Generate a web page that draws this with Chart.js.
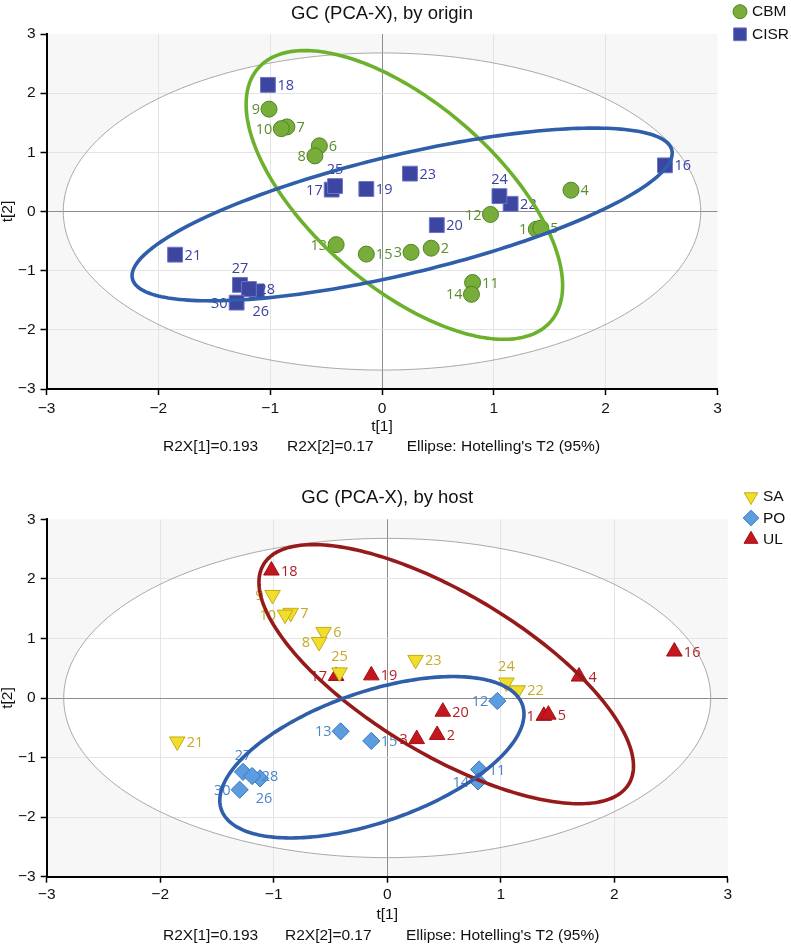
<!DOCTYPE html>
<html>
<head>
<meta charset="utf-8">
<script src="https://cdn.jsdelivr.net/npm/chart.js@4.4.1/dist/chart.umd.min.js"></script>
<style>
  body { margin: 0; background: #fff; width: 791px; height: 946px; overflow: hidden; }
  canvas { position: absolute; left: 0; }
  #originChart { top: 0; }
  #hostChart { top: 460px; }
</style>
</head>
<body>
<canvas id="originChart" width="791" height="460"></canvas>
<canvas id="hostChart" width="791" height="486"></canvas>
<script>
// PCA scores per sample (29 is hidden behind the 26/28 cluster, so left out)
const sampleIds = [1, 2, 3, 4, 5, 6, 7, 8, 9, 10, 11, 12, 13, 14, 15,
                   16, 17, 18, 19, 20, 21, 22, 23, 24, 25, 26, 27, 28, 30];
const t1Scores = [1.38, 0.44, 0.26, 1.69, 1.42, -0.56, -0.85, -0.60, -1.01, -0.90, 0.81, 0.97, -0.41, 0.80, -0.14,
                  2.53, -0.45, -1.02, -0.14, 0.49, -1.85, 1.15, 0.25, 1.05, -0.42, -1.12, -1.27, -1.19, -1.30];
const t2Scores = [-0.30, -0.62, -0.69, 0.36, -0.28, 1.11, 1.43, 0.94, 1.73, 1.40, -1.20, -0.05, -0.56, -1.40, -0.72,
                  0.78, 0.37, 2.14, 0.38, -0.23, -0.73, 0.13, 0.64, 0.26, 0.43, -1.35, -1.24, -1.31, -1.54];
const originGroups = ['CBM', 'CBM', 'CBM', 'CBM', 'CBM', 'CBM', 'CBM', 'CBM', 'CBM', 'CBM', 'CBM', 'CBM', 'CBM', 'CBM', 'CBM',
                      'CISR', 'CISR', 'CISR', 'CISR', 'CISR', 'CISR', 'CISR', 'CISR', 'CISR', 'CISR', 'CISR', 'CISR', 'CISR', 'CISR'];
const hostGroups = ['UL', 'UL', 'UL', 'UL', 'UL', 'SA', 'SA', 'SA', 'SA', 'SA', 'PO', 'PO', 'PO', 'PO', 'PO',
                    'UL', 'UL', 'UL', 'UL', 'UL', 'SA', 'SA', 'SA', 'SA', 'SA', 'PO', 'PO', 'PO', 'PO'];
const originNames = ['CBM', 'CISR'];
const hostNames = ['SA', 'PO', 'UL'];
const axisTicks = [-3, -2, -1, 0, 1, 2, 3];
const r2x = [0.193, 0.17];

// ellipses: [centre t1, centre t2, half width t1, half height t2, correlation]
const hotellingEllipse = [0, 0, 2.85, 2.68, 0];
const originEllipses = { CBM: [0.20, 0.28, 1.415, 2.44, -0.628], CISR: [0.18, -0.05, 2.415, 1.46, 0.709] };
const hostEllipses = { UL: [0.52, 0.40, 1.65, 2.175, -0.709], PO: [-0.135, -0.995, 1.34, 1.355, 0.534] };

const FONT = "'Liberation Sans', Arial, sans-serif";
const LABEL_FONT = "14.5px 'Open Sans', 'Noto Sans', sans-serif";

const groupStyle = {
  CBM:  { pointStyle: 'circle',   rotation: 0,   radius: 8,   legendRadius: 7,   fill: '#79ad3b', stroke: '#4d8722', text: '#5b8d2c', line: '#6cb12c' },
  CISR: { pointStyle: 'rect',     rotation: 0,   radius: 10.5, legendRadius: 9,  fill: '#3c46a0', stroke: '#6b74c4', text: '#3c41a0', line: '#2f5eaa' },
  SA:   { pointStyle: 'triangle', rotation: 180, radius: 9,   legendRadius: 7.8, fill: '#f1dd2b', stroke: '#c3ac17', text: '#c6aa2c', line: null },
  PO:   { pointStyle: 'rectRot',  rotation: 0,   radius: 8.6, legendRadius: 7.8, fill: '#5b9dde', stroke: '#3a77c0', text: '#4a86c8', line: '#2f5eaa' },
  UL:   { pointStyle: 'triangle', rotation: 0,   radius: 9,   legendRadius: 8,   fill: '#c4171d', stroke: '#a11016', text: '#b31f24', line: '#971a1a' }
};

// where the number sits next to its marker (default: right)
const labelPlacement = {
  9: 'left', 10: 'left', 8: 'left', 17: 'left', 12: 'left', 1: 'left', 3: 'left',
  13: 'left', 14: 'left', 30: 'left', 25: 'above', 24: 'above', 27: 'above', 26: 'below'
};

const fmtTick = v => (v < 0 ? '\u2212' + Math.abs(v) : String(v));

function ellipsePath(chart, e) {
  const [cx, cy, sx, sy, r] = e;
  const xs = chart.scales.x, ys = chart.scales.y, ctx = chart.ctx;
  const k = Math.sqrt(1 - r * r);
  ctx.beginPath();
  for (let i = 0; i <= 240; i++) {
    const a = i / 240 * Math.PI * 2;
    const px = xs.getPixelForValue(cx + sx * Math.cos(a));
    const py = ys.getPixelForValue(cy + sy * (r * Math.cos(a) + k * Math.sin(a)));
    if (i === 0) ctx.moveTo(px, py); else ctx.lineTo(px, py);
  }
  ctx.closePath();
}

const pcaPlugin = {
  id: 'pca',
  beforeDraw(chart) {
    const { ctx, chartArea: a } = chart;
    ctx.save();
    ctx.fillStyle = '#f7f7f7';
    ctx.fillRect(a.left, a.top, a.right - a.left, a.bottom - a.top);
    ctx.beginPath();
    ctx.rect(a.left, a.top, a.right - a.left, a.bottom - a.top);
    ctx.clip();
    ellipsePath(chart, hotellingEllipse);
    ctx.fillStyle = '#ffffff';
    ctx.fill();
    ctx.restore();
  },
  beforeDatasetsDraw(chart) {
    const ctx = chart.ctx;
    ctx.save();
    ellipsePath(chart, hotellingEllipse);
    ctx.strokeStyle = '#a9a9a9';
    ctx.lineWidth = 1;
    ctx.stroke();
    ctx.restore();
  },
  afterDatasetsDraw(chart) {
    const ctx = chart.ctx;
    const o = chart.options.plugins.pca;
    ctx.save();
    ctx.font = LABEL_FONT;
    ctx.textBaseline = 'middle';
    chart.data.datasets.forEach((ds, di) => {
      const st = groupStyle[ds.label];
      ctx.fillStyle = st.text;
      chart.getDatasetMeta(di).data.forEach((pt, i) => {
        const id = ds.data[i].id;
        const place = labelPlacement[id] || 'right';
        let x = pt.x, y = pt.y + 1;
        if (place === 'left') { ctx.textAlign = 'right'; x -= 9; }
        else if (place === 'above') { ctx.textAlign = 'center'; y -= 17; }
        else if (place === 'below') { ctx.textAlign = 'center'; x += 4; y += 19; }
        else { ctx.textAlign = 'left'; x += 9.5; }
        ctx.fillText(String(id), x, y);
      });
    });
    // group ellipses sit on top of the markers
    Object.keys(o.ellipses).forEach(name => {
      ellipsePath(chart, o.ellipses[name]);
      ctx.strokeStyle = groupStyle[name].line;
      ctx.lineWidth = 3.6;
      ctx.stroke();
    });
    ctx.restore();
  },
  afterDraw(chart) {
    const ctx = chart.ctx;
    const o = chart.options.plugins.pca;
    const a = chart.chartArea;
    ctx.save();
    ctx.fillStyle = '#111';
    ctx.textBaseline = 'middle';
    ctx.textAlign = 'center';
    ctx.font = '18.5px ' + FONT;
    ctx.fillText(o.title, (a.left + a.right) / 2, o.titleY);

    ctx.textAlign = 'left';
    ctx.font = '15.5px ' + FONT;
    const foot = ['R2X[1]=' + r2x[0], 'R2X[2]=' + r2x[1], "Ellipse: Hotelling's T2 (95%)"];
    foot.forEach((t, i) => ctx.fillText(t, o.footerX[i], o.footerY));

    ctx.font = '15.5px ' + FONT;
    o.legend.forEach((name, i) => {
      const st = groupStyle[name];
      const y = o.legendY + i * o.legendStep;
      ctx.fillStyle = st.fill;
      ctx.strokeStyle = st.stroke;
      ctx.lineWidth = 1;
      Chart.helpers.drawPoint(ctx, { pointStyle: st.pointStyle, rotation: st.rotation, radius: st.legendRadius, borderWidth: 1 }, o.legendX, y);
      ctx.fillStyle = '#111';
      ctx.fillText(name, o.legendX + 12, y + 0.5);
    });
    ctx.restore();
  }
};

function gridColor(c) {
  const v = c.tick.value;
  if (v === 0) return '#8d8d8d';
  if (Math.abs(v) === 3) return 'rgba(0,0,0,0)';
  return '#e4e4e4';
}

function makeChart(canvasId, groups, names, ellipses, L) {
  const datasets = names.map(name => {
    const st = groupStyle[name];
    const data = [];
    sampleIds.forEach((id, i) => {
      if (groups[i] === name) data.push({ x: t1Scores[i], y: t2Scores[i], id: id });
    });
    return {
      label: name,
      data: data,
      pointStyle: st.pointStyle,
      rotation: st.rotation,
      pointRadius: st.radius,
      pointHoverRadius: st.radius,
      backgroundColor: st.fill,
      borderColor: st.stroke,
      borderWidth: 1
    };
  });

  return new Chart(document.getElementById(canvasId), {
    type: 'scatter',
    data: { datasets },
    plugins: [pcaPlugin],
    options: {
      responsive: false,
      animation: false,
      devicePixelRatio: 1,
      events: [],
      layout: { padding: { left: 0, right: L.padRight, top: L.padTop, bottom: 0 } },
      plugins: {
        legend: { display: false },
        tooltip: { enabled: false },
        pca: L.pca
      },
      scales: {
        x: {
          type: 'linear', min: -3, max: 3,
          afterBuildTicks: s => { s.ticks = axisTicks.map(v => ({ value: v })); },
          afterFit: s => { s.height = L.xAxisHeight; },
          ticks: { callback: fmtTick, font: { family: FONT, size: 15.5 }, color: '#111', padding: L.xTickPad, maxRotation: 0, autoSkip: false },
          grid: { color: gridColor, lineWidth: 1, tickColor: '#000', tickLength: 6, tickWidth: 1.5 },
          border: { color: '#000', width: 2 },
          title: { display: true, text: 't[1]', color: '#111', font: { family: FONT, size: 15.5, lineHeight: 1.2 }, padding: { top: 0, bottom: L.xTitlePad } }
        },
        y: {
          type: 'linear', min: -3, max: 3,
          afterBuildTicks: s => { s.ticks = axisTicks.map(v => ({ value: v })); },
          afterFit: s => { s.width = L.yAxisWidth; },
          ticks: { callback: fmtTick, font: { family: FONT, size: 15.5 }, color: '#111', padding: 5, autoSkip: false },
          grid: { color: gridColor, lineWidth: 1, tickColor: '#000', tickLength: 6, tickWidth: 1.5 },
          border: { color: '#000', width: 2 },
          title: { display: true, text: 't[2]', color: '#111', font: { family: FONT, size: 15.5, lineHeight: 1 }, padding: { top: 0, bottom: 0 } }
        }
      }
    }
  });
}

makeChart('originChart', originGroups, originNames, originEllipses, {
  padRight: 73.5, padTop: 34, xAxisHeight: 71, yAxisWidth: 46.5, xTickPad: 4, xTitlePad: 24,
  pca: {
    title: 'GC (PCA-X), by origin', titleY: 13.5,
    footerX: [163, 287, 406.7], footerY: 447,
    legend: originNames, legendX: 740, legendY: 11.7, legendStep: 22.6,
    ellipses: originEllipses
  }
});

makeChart('hostChart', hostGroups, hostNames, hostEllipses, {
  padRight: 63.3, padTop: 59.3, xAxisHeight: 69.3, yAxisWidth: 46.7, xTickPad: 3, xTitlePad: 21.7,
  pca: {
    title: 'GC (PCA-X), by host', titleY: 38.3,
    footerX: [163, 285, 406], footerY: 475.7,
    legend: hostNames, legendX: 751, legendY: 36.7, legendStep: 21.3,
    ellipses: hostEllipses
  }
});
</script>
</body>
</html>
